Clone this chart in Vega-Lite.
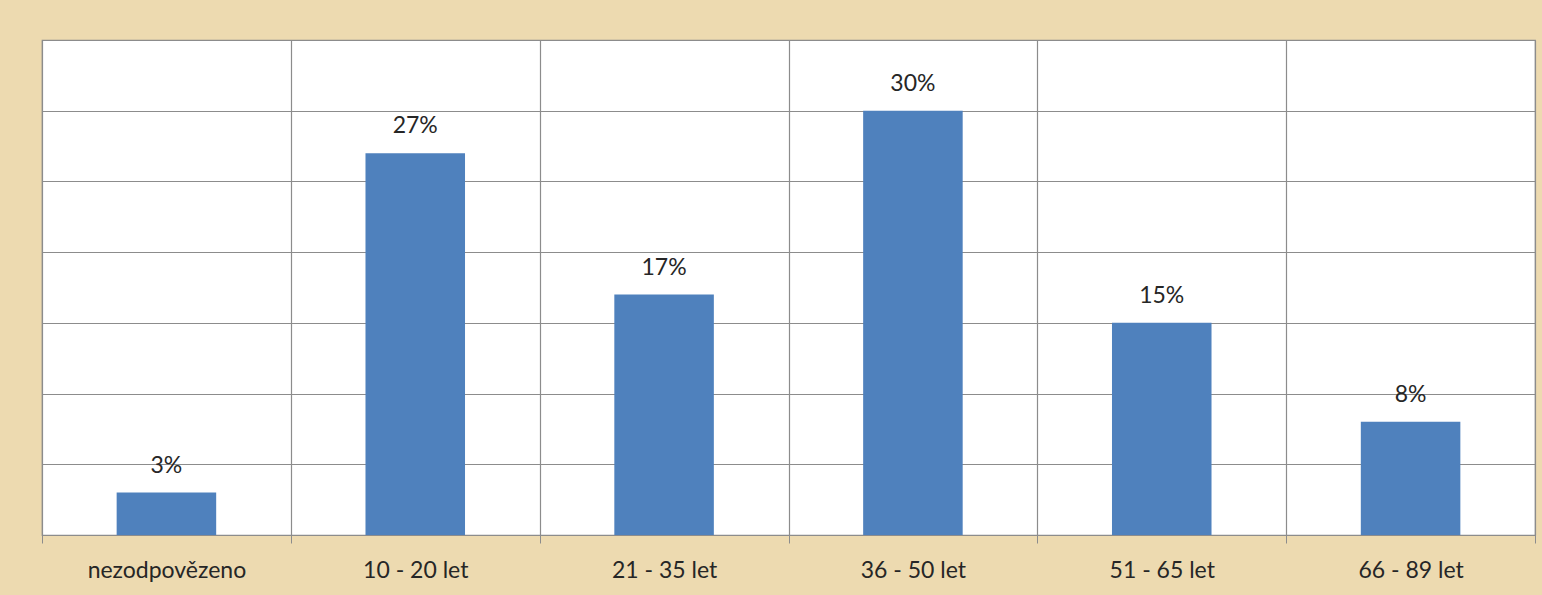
{
  "$schema": "https://vega.github.io/schema/vega-lite/v6.json",
  "autosize": {"type": "none"},
  "padding": {"left": 42, "top": 40, "right": 7, "bottom": 60},
  "width": 1493,
  "height": 495,
  "background": "#eddab0",
  "config": {
    "view": {"fill": "#ffffff", "stroke": "#8c8c8c", "strokeWidth": 1.2},
    "font": "Lato"
  },
  "data": {
    "values": [
      {"kategorie": "nezodpovězeno", "podil": 3, "popis": "3%"},
      {"kategorie": "10 - 20 let", "podil": 27, "popis": "27%"},
      {"kategorie": "21 - 35 let", "podil": 17, "popis": "17%"},
      {"kategorie": "36 - 50 let", "podil": 30, "popis": "30%"},
      {"kategorie": "51 - 65 let", "podil": 15, "popis": "15%"},
      {"kategorie": "66 - 89 let", "podil": 8, "popis": "8%"}
    ]
  },
  "encoding": {
    "x": {
      "field": "kategorie",
      "type": "nominal",
      "sort": null,
      "scale": {"paddingInner": 0, "paddingOuter": 0},
      "axis": {
        "title": null,
        "labelAngle": 0,
        "labelFont": "Lato",
        "labelFontSize": 23,
        "labelColor": "#262626",
        "labelBaseline": "alphabetic",
        "labelPadding": 34,
        "tickSize": 8,
        "tickColor": "#8c8c8c",
        "tickBand": "extent",
        "bandPosition": 0,
        "grid": true,
        "gridColor": "#8c8c8c",
        "gridWidth": 1.2,
        "domainColor": "#8c8c8c",
        "domainWidth": 1.2
      }
    },
    "y": {
      "field": "podil",
      "type": "quantitative",
      "scale": {"domain": [0, 35], "nice": false},
      "axis": {
        "title": null,
        "labels": false,
        "ticks": false,
        "domain": false,
        "values": [0, 5, 10, 15, 20, 25, 30, 35],
        "grid": true,
        "gridColor": "#8c8c8c",
        "gridWidth": 1.2
      }
    }
  },
  "layer": [
    {
      "mark": {"type": "bar", "color": "#4f81bd", "width": {"band": 0.4}}
    },
    {
      "mark": {
        "type": "text",
        "baseline": "alphabetic",
        "align": "center",
        "dy": -20,
        "fontSize": 23,
        "font": "Lato",
        "color": "#262626"
      },
      "encoding": {"text": {"field": "popis"}}
    }
  ]
}
